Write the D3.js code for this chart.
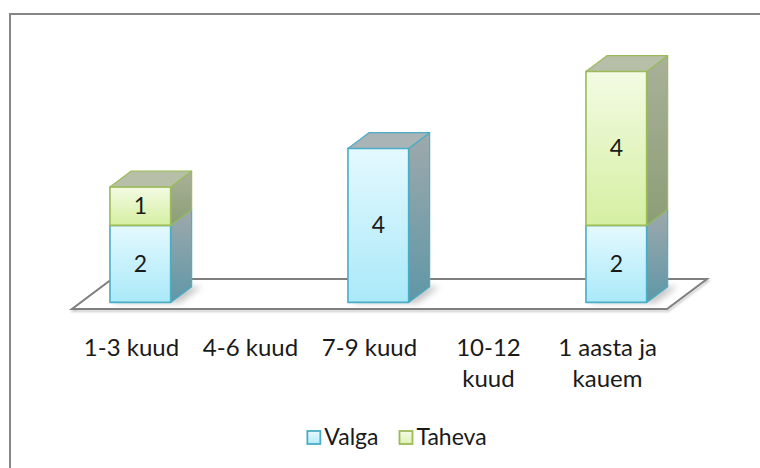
<!DOCTYPE html>
<html><head><meta charset="utf-8">
<script src="https://cdn.jsdelivr.net/npm/d3@7"></script>
<style>body{margin:0;background:#fff} svg{display:block}</style>
</head><body><svg id="c" width="760" height="468"></svg>
<script>
const categories = ["1-3 kuud","4-6 kuud","7-9 kuud","10-12 kuud","1 aasta ja kauem"];
const seriesNames = ["Valga","Taheva"];
const valga = [2,0,4,0,2];
const taheva = [1,0,0,0,4];
const yMax = 7;

const FONT = "Lato, 'Open Sans', sans-serif";
const svg = d3.select("#c");
const defs = svg.append("defs");

const styles = [
  {front:["#e4f9fe","#aae9f9"], side:["#9ea9ac","#5f97a7"], top:"#a9b4b6", stroke:"#4bacc6", leg:["#e6f9fe","#b4ecfa"]},
  {front:["#f3fbe3","#d5efa2"], side:["#a9b198","#8c9e76"], top:"#b8bfa8", stroke:"#9bbb59", leg:["#f4fbe6","#dcf2b2"]}
];
styles.forEach((s,i)=>{
  const g1 = defs.append("linearGradient").attr("id","f"+i).attr("x1",0).attr("y1",0).attr("x2",0).attr("y2",1);
  g1.append("stop").attr("offset",0).attr("stop-color",s.front[0]);
  g1.append("stop").attr("offset",1).attr("stop-color",s.front[1]);
  const g2 = defs.append("linearGradient").attr("id","s"+i).attr("x1",0).attr("y1",0).attr("x2",0).attr("y2",1);
  g2.append("stop").attr("offset",0).attr("stop-color",s.side[0]);
  g2.append("stop").attr("offset",1).attr("stop-color",s.side[1]);
  const g3 = defs.append("linearGradient").attr("id","l"+i).attr("x1",0).attr("y1",0).attr("x2",0).attr("y2",1);
  g3.append("stop").attr("offset",0).attr("stop-color",s.leg[0]);
  g3.append("stop").attr("offset",1).attr("stop-color",s.leg[1]);
});
defs.append("filter").attr("id","blur").attr("x","-50%").attr("y","-50%").attr("width","200%").attr("height","200%")
  .append("feGaussianBlur").attr("stdDeviation",3);
defs.append("filter").attr("id","blur1").attr("x","-10%").attr("y","-50%").attr("width","120%").attr("height","200%")
  .append("feGaussianBlur").attr("stdDeviation",1);

// chart area border
svg.append("rect").attr("x",10).attr("y",14).attr("width",770).attr("height",480)
  .attr("fill","#fff").attr("stroke","#868686").attr("stroke-width",2);

// scales
const x = d3.scaleBand().domain(categories).range([72,667]).paddingInner(0.49).paddingOuter(0.245);
const y = d3.scaleLinear().domain([0,yMax]).range([309, 309 - yMax*38.5]);
const DX = 40, DY = 30, zf = 0.22, zb = 0.745;
const P = (px, v, z) => [px + z*DX, y(v) - z*DY];
const pts = arr => arr.map(p=>p.join(",")).join(" ");

// floor
const fx0 = x.range()[0], fx1 = x.range()[1];
const floor = [P(fx0,0,0),P(fx1,0,0),P(fx1,0,1),P(fx0,0,1)];
svg.append("polygon").attr("points",pts(floor)).attr("transform","translate(1,2)")
  .attr("fill","none").attr("stroke","#c8c8c8").attr("stroke-width",2).attr("filter","url(#blur1)");
svg.append("polygon").attr("points",pts(floor)).attr("fill","#fff").attr("stroke","#7f7f7f").attr("stroke-width",2);

// stacked data
const stacks = categories.map((c,i)=>{
  const segs = []; let base = 0;
  [valga[i], taheva[i]].forEach((v,s)=>{ if(v>0){ segs.push({c, s, v, y0:base, y1:base+v}); } base += v; });
  return {c, segs, total: base};
});

// shadows
const gSh = svg.append("g");
stacks.filter(d=>d.total>0).forEach(d=>{
  const x0 = x(d.c), x1 = x0 + x.bandwidth();
  gSh.append("polygon").attr("points", pts([P(x0+4,0,zf-0.02),P(x1+10,0,zf-0.02),P(x1+10,0,zb),P(x0+4,0,zb)]))
    .attr("fill","#9a9a9a").attr("opacity",0.55).attr("filter","url(#blur)");
});

// bars
const gB = svg.append("g");
stacks.forEach(d=>{
  const x0 = x(d.c), x1 = x0 + x.bandwidth();
  d.segs.forEach((sg,k)=>{
    const st = styles[sg.s];
    const g = gB.append("g");
    g.append("polygon").attr("points", pts([P(x1,sg.y0,zf),P(x1,sg.y0,zb),P(x1,sg.y1,zb),P(x1,sg.y1,zf)]))
      .attr("fill",`url(#s${sg.s})`).attr("stroke",st.stroke).attr("stroke-width",1.2).attr("stroke-linejoin","round");
    g.append("polygon").attr("points", pts([P(x0,sg.y0,zf),P(x1,sg.y0,zf),P(x1,sg.y1,zf),P(x0,sg.y1,zf)]))
      .attr("fill",`url(#f${sg.s})`).attr("stroke",st.stroke).attr("stroke-width",1.6).attr("stroke-linejoin","round");
    if(k === d.segs.length-1){
      g.append("polygon").attr("points", pts([P(x0,sg.y1,zf),P(x1,sg.y1,zf),P(x1,sg.y1,zb),P(x0,sg.y1,zb)]))
        .attr("fill",st.top).attr("stroke",st.stroke).attr("stroke-width",1.2).attr("stroke-linejoin","round");
    }
  });
});
// data labels
stacks.forEach(d=>{
  const cx = x(d.c) + x.bandwidth()/2;
  d.segs.forEach(sg=>{
    const p = P(cx, (sg.y0+sg.y1)/2, zf);
    svg.append("text").attr("x",p[0]).attr("y",p[1]).attr("dy","0.35em").attr("text-anchor","middle")
      .attr("font-family",FONT).attr("font-size",23).attr("fill","#1a1a1a").text(sg.v);
  });
});

// category labels with wrapping
const gL = svg.append("g").attr("font-family",FONT).attr("font-size",24).attr("fill","#1a1a1a");
categories.forEach(c=>{
  const cx = x(c) + x.bandwidth()/2;
  const t = gL.append("text").attr("text-anchor","middle").attr("x",cx).attr("y",356);
  const words = c.split(" ");
  const maxW = x.step() - 4;
  let lines = [], cur = [];
  const probe = gL.append("text").attr("visibility","hidden");
  words.forEach(w=>{
    const test = cur.concat([w]).join(" ");
    probe.text(test);
    if(probe.node().getComputedTextLength() > maxW && cur.length){ lines.push(cur.join(" ")); cur=[w]; }
    else cur.push(w);
  });
  lines.push(cur.join(" "));
  probe.remove();
  lines.forEach((ln,i)=>{
    t.append("tspan").attr("x",cx).attr("dy", i===0 ? 0 : 31).text(ln);
  });
});

// legend
const gLeg = svg.append("g").attr("font-family",FONT).attr("font-size",23).attr("fill","#1a1a1a");
const items = [];
seriesNames.forEach((n,i)=>{
  const it = gLeg.append("g");
  it.append("rect").attr("x",0).attr("y",-6).attr("width",13).attr("height",13)
    .attr("fill",`url(#l${i})`).attr("stroke",styles[i].stroke).attr("stroke-width",1.8);
  const tx = it.append("text").attr("x",17).attr("y",0).attr("dy","0.35em").text(n);
  const w = 17 + tx.node().getComputedTextLength();
  items.push({it, w});
});
const gap = 21;
const totalW = d3.sum(items, d=>d.w) + gap*(items.length-1);
let cxs = 397 - totalW/2;
items.forEach(d=>{ d.it.attr("transform",`translate(${cxs},437)`); cxs += d.w + gap; });
</script></body></html>
